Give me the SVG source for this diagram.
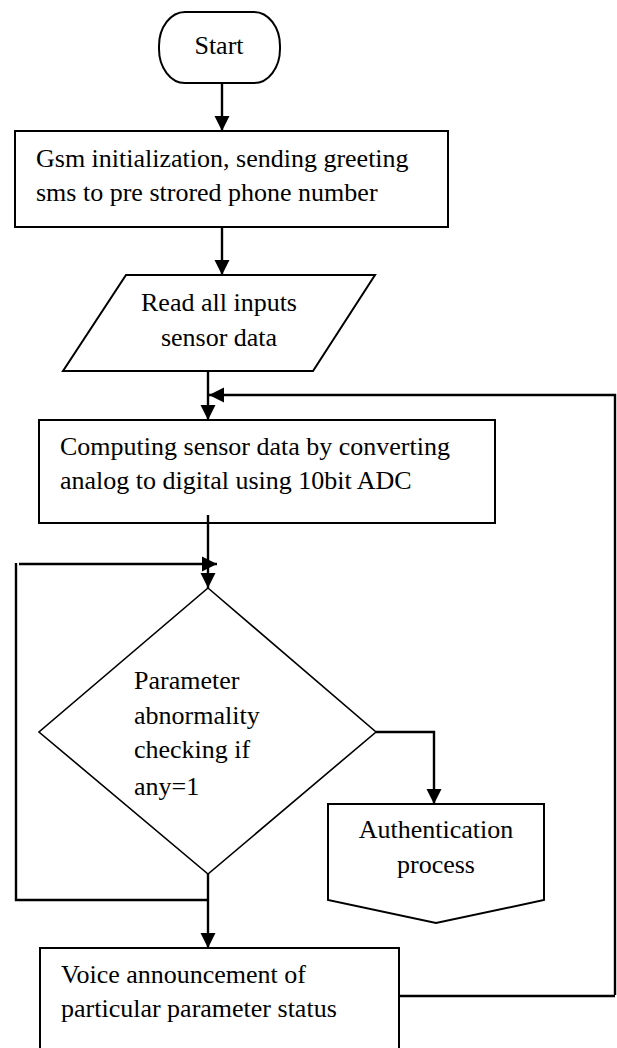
<svg xmlns="http://www.w3.org/2000/svg" width="617" height="1048" viewBox="0 0 617 1048">
<style>
.shape{fill:#fff;stroke:#000;stroke-width:2}
.dia{fill:#fff;stroke:#000;stroke-width:1.6}
.conn{fill:none;stroke:#000;stroke-width:2.4}
text{font-family:"Liberation Serif","Times New Roman",serif;font-size:26px;fill:#000}
.c{text-anchor:middle}
</style>
<defs>
<marker id="ah" markerUnits="userSpaceOnUse" markerWidth="16" markerHeight="16" viewBox="0 0 16 16" refX="15" refY="8" orient="auto">
<path d="M0,0.5 L15,8 L0,15.5 Z" fill="#000"/>
</marker>
</defs>
<rect width="617" height="1048" fill="#fff"/>
<g id="connectors">
<line class="conn" x1="222" y1="83" x2="222" y2="131" marker-end="url(#ah)"/>
<line class="conn" x1="222" y1="227" x2="222" y2="275" marker-end="url(#ah)"/>
<line class="conn" x1="208" y1="371" x2="208" y2="420" marker-end="url(#ah)"/>
<polyline class="conn" points="615,995 615,395 209,395" marker-end="url(#ah)"/>
<line class="conn" x1="400" y1="996" x2="615" y2="996"/>
<line class="conn" x1="208" y1="515" x2="208" y2="588" marker-end="url(#ah)"/>
<line class="conn" x1="19" y1="564" x2="217" y2="564" marker-end="url(#ah)"/>
<polyline class="conn" points="16,563 16,900 208,900"/>
<line class="conn" x1="208" y1="874" x2="208" y2="948" marker-end="url(#ah)"/>
<polyline class="conn" points="376,732 434,732 434,804" marker-end="url(#ah)"/>
</g>
<g id="start">
<rect class="shape" x="159" y="12" width="121" height="71" rx="26" ry="34"/>
<text class="c" x="219" y="54">Start</text>
</g>
<g id="gsm-init">
<rect class="shape" x="15" y="131" width="433" height="96"/>
<text x="36" y="167">Gsm initialization, sending greeting</text>
<text x="36" y="201">sms to pre strored phone number</text>
</g>
<g id="read-inputs">
<polygon class="shape" points="126,275 375,275 313,371 63,371"/>
<text class="c" x="219" y="311">Read all inputs</text>
<text class="c" x="219" y="346">sensor data</text>
</g>
<g id="compute">
<rect class="shape" x="39" y="420" width="456" height="103"/>
<text x="60" y="455">Computing sensor data by converting</text>
<text x="60" y="489">analog to digital using 10bit ADC</text>
</g>
<line class="conn" x1="208" y1="515" x2="208" y2="524"/>
<g id="decision">
<polygon class="dia" points="208,588 376,732 208,874 39,732"/>
<text x="134" y="689">Parameter</text>
<text x="134" y="724">abnormality</text>
<text x="134" y="758">checking if</text>
<text x="134" y="795">any=1</text>
</g>
<g id="authentication">
<polygon class="shape" points="328,804 544,804 544,900 436,923 328,900"/>
<text class="c" x="436" y="838">Authentication</text>
<text class="c" x="436" y="873">process</text>
</g>
<g id="voice">
<rect class="shape" x="40" y="948" width="359" height="110"/>
<text x="61" y="983">Voice announcement of</text>
<text x="61" y="1017">particular parameter status</text>
</g>
</svg>
